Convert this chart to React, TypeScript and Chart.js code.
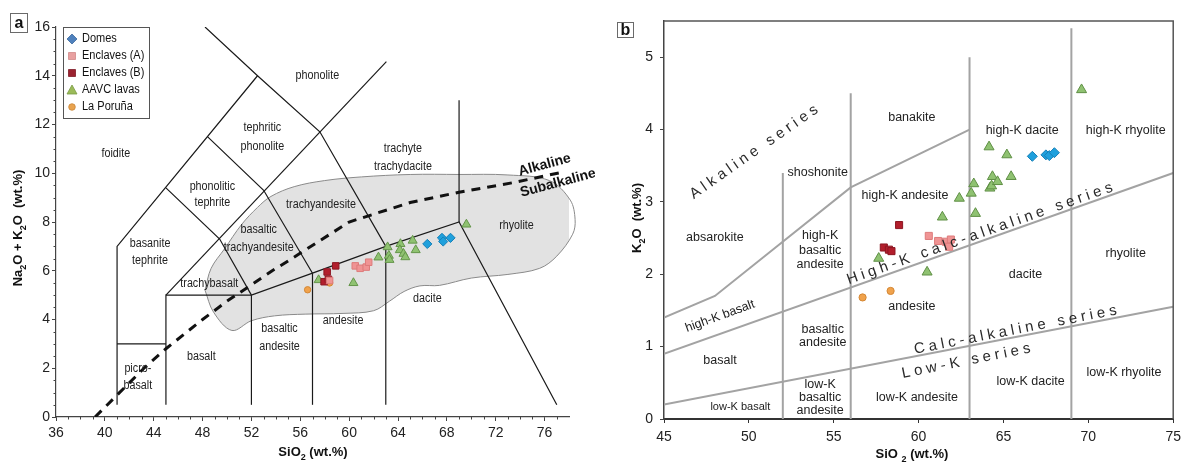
import React, { useEffect, useRef } from 'react';
import { Chart, registerables } from 'chart.js';

Chart.register(...registerables);

const FONT = '"Liberation Sans", Arial, sans-serif';

// ---------------- Panel a : TAS diagram ----------------
const tasXTicks = [36, 40, 44, 48, 52, 56, 60, 64, 68, 72, 76];
const tasYTicks = [0, 2, 4, 6, 8, 10, 12, 14, 16];

const tasDomes = [[66.4, 7.1], [67.6, 7.35], [67.7, 7.2], [68.3, 7.35]];
const tasEnclavesA = [[60.5, 6.2], [60.9, 6.1], [61.4, 6.15], [61.6, 6.35], [58.4, 5.6]];
const tasEnclavesB = [[58.9, 6.2], [58.2, 5.95], [57.95, 5.55], [58.3, 5.65]];
const tasAAVC = [
  [57.5, 5.62], [60.35, 5.5], [62.4, 6.55], [63.15, 6.97], [63.25, 6.62], [63.3, 6.45],
  [64.2, 7.1], [64.15, 6.85], [64.45, 6.7], [64.6, 6.56], [65.2, 7.24], [65.45, 6.85], [69.6, 7.9],
];
const tasPoruna = [[56.6, 5.22], [58.4, 5.5]];

const tasField = [
  [48.2, 5.2], [48.7, 6.1], [49.8, 6.9], [51.2, 7.9], [52.5, 8.6], [53.6, 9.05], [55.5, 9.45],
  [58, 9.7], [61, 9.85], [65, 9.95], [69, 9.95], [73, 9.93], [76.4, 9.7], [78.1, 8.9],
  [78.5, 8.1], [78.3, 7.5], [77, 6.6], [75.6, 6.1], [73, 5.85], [70, 5.7], [67.4, 5.4],
  [65.8, 5.38], [64.5, 5.15], [63.3, 4.75], [62, 4.36], [59.5, 4.25], [56.4, 4.22],
  [53.9, 4.15], [52, 3.95], [50.4, 3.55], [48.9, 4.3], [48.2, 5.2],
];

const tasBoundaries = [
  [[41, 0.5], [41, 7], [52.5, 14]],
  [[48.2, 16], [52.5, 14], [57.6, 11.7], [63, 7]],
  [[48.4, 11.5], [53, 9.3], [57, 5.9]],
  [[45, 9.4], [49.4, 7.3], [52, 5]],
  [[45, 5], [63.05, 14.58]],
  [[41, 3], [45, 3]],
  [[45, 0.5], [45, 5], [52, 5], [57, 5.9], [63, 7], [69, 8], [77, 0.5]],
  [[52, 0.5], [52, 5]],
  [[57, 0.5], [57, 5.9]],
  [[63, 0.5], [63, 7]],
  [[69, 8], [69, 13]],
];

const tasAlkalineDivide = [
  [39.2, 0], [40, 0.4], [43.2, 2], [45, 2.8], [48, 4], [50, 4.75], [53.7, 6], [55, 6.4],
  [60, 8], [65, 8.8], [69, 9.22], [73.7, 9.64], [77.5, 10.05],
];

const tasLabels = [
  { t: 'foidite', x: 40.9, y: 10.8 },
  { t: 'phonolite', x: 57.4, y: 14.0 },
  { t: 'tephritic', x: 52.9, y: 11.86 },
  { t: 'phonolite', x: 52.9, y: 11.08 },
  { t: 'phonolitic', x: 48.8, y: 9.44 },
  { t: 'tephrite', x: 48.8, y: 8.78 },
  { t: 'basanite', x: 43.7, y: 7.1 },
  { t: 'tephrite', x: 43.7, y: 6.4 },
  { t: 'trachyte', x: 64.4, y: 11.0 },
  { t: 'trachydacite', x: 64.4, y: 10.26 },
  { t: 'trachyandesite', x: 57.7, y: 8.7 },
  { t: 'basaltic', x: 52.6, y: 7.71 },
  { t: 'trachyandesite', x: 52.6, y: 6.97 },
  { t: 'trachybasalt', x: 48.55, y: 5.46 },
  { t: 'rhyolite', x: 73.7, y: 7.84 },
  { t: 'dacite', x: 66.4, y: 4.88 },
  { t: 'andesite', x: 59.5, y: 3.94 },
  { t: 'basaltic', x: 54.3, y: 3.61 },
  { t: 'andesite', x: 54.3, y: 2.91 },
  { t: 'basalt', x: 47.9, y: 2.5 },
  { t: 'picro-', x: 42.7, y: 2.0 },
  { t: 'basalt', x: 42.7, y: 1.3 },
];
const tasSeriesLabels = [
  { t: 'Alkaline', x: 76.0, y: 10.34 },
  { t: 'Subalkaline', x: 77.1, y: 9.6 },
];

// ---------------- Panel b : K2O vs SiO2 ----------------
const kXTicks = [45, 50, 55, 60, 65, 70, 75];
const kYTicks = [0, 1, 2, 3, 4, 5];

const kDomes = [[66.7, 3.63], [67.5, 3.65], [67.7, 3.64], [68.0, 3.68]];
const kEnclavesA = [[60.6, 2.53], [61.15, 2.46], [61.6, 2.45], [61.9, 2.48], [61.8, 2.38]];
const kEnclavesB = [[58.85, 2.68], [57.95, 2.37], [58.25, 2.34], [58.4, 2.32]];
const kAAVC = [
  [57.65, 2.22], [60.5, 2.03], [61.4, 2.79], [62.4, 3.05], [63.1, 3.12], [63.25, 3.25],
  [63.35, 2.84], [64.15, 3.76], [64.2, 3.19], [64.3, 3.22], [64.35, 3.35], [64.65, 3.28],
  [65.2, 3.65], [65.45, 3.35], [69.6, 4.55],
];
const kPoruna = [[56.7, 1.68], [58.35, 1.77]];

const kBoundaries = [
  [[45, 1.4], [48, 1.7], [56, 3.2], [63, 4.0]],
  [[45, 0.9], [75, 3.4]],
  [[45, 0.2], [75, 1.55]],
  [[52, 0], [52, 3.4]],
  [[56, 0], [56, 4.5]],
  [[63, 0], [63, 5.0]],
  [[69, 0], [69, 5.4]],
];

const kLabels = [
  { t: 'shoshonite', x: 54.06, y: 3.41 },
  { t: 'banakite', x: 59.6, y: 4.17 },
  { t: 'high-K dacite', x: 66.1, y: 3.98 },
  { t: 'high-K rhyolite', x: 72.2, y: 3.98 },
  { t: 'high-K andesite', x: 59.2, y: 3.09 },
  { t: 'absarokite', x: 48.0, y: 2.51 },
  { t: 'high-K', x: 54.2, y: 2.54 },
  { t: 'basaltic', x: 54.2, y: 2.33 },
  { t: 'andesite', x: 54.2, y: 2.13 },
  { t: 'rhyolite', x: 72.2, y: 2.29 },
  { t: 'dacite', x: 66.3, y: 1.99 },
  { t: 'andesite', x: 59.6, y: 1.55 },
  { t: 'basaltic', x: 54.35, y: 1.24 },
  { t: 'andesite', x: 54.35, y: 1.05 },
  { t: 'basalt', x: 48.3, y: 0.81 },
  { t: 'low-K', x: 54.2, y: 0.48 },
  { t: 'basaltic', x: 54.2, y: 0.3 },
  { t: 'andesite', x: 54.2, y: 0.12 },
  { t: 'low-K andesite', x: 59.9, y: 0.29 },
  { t: 'low-K dacite', x: 66.6, y: 0.52 },
  { t: 'low-K rhyolite', x: 72.1, y: 0.64 },
];
const kSmallLabels = [{ t: 'low-K basalt', x: 49.5, y: 0.17 }];
const kRotLabels = [{ t: 'high-K basalt', x: 48.3, y: 1.42, rot: -20 }];
const kSeriesLabels = [
  { t: 'Alkaline series', x: 50.3, y: 3.69, rot: -35 },
  { t: 'High-K calc-alkaline series', x: 63.6, y: 2.56, rot: -19.4 },
  { t: 'Calc-alkaline series', x: 65.7, y: 1.23, rot: -11 },
  { t: 'Low-K series', x: 62.8, y: 0.8, rot: -11.3 },
];

const legendNames = ['Domes', 'Enclaves (A)', 'Enclaves (B)', 'AAVC lavas', 'La Poruña'];

// ---------------- helpers ----------------
const pts = (a: number[][]) => a.map(([x, y]) => ({ x, y }));

function lineDs(data: number[][], extra: any = {}) {
  return {
    data: pts(data), showLine: true, pointRadius: 0, borderColor: '#1a1a1a', borderWidth: 1.2,
    fill: false, order: 5, tension: 0, ...extra,
  };
}

function markerDs(label: string, data: number[][], style: string, bg: string, border: string, r: number) {
  return {
    label, data: pts(data), pointStyle: style, pointRadius: r, pointBackgroundColor: bg,
    pointBorderColor: border, pointBorderWidth: 1, backgroundColor: bg, borderColor: border,
    showLine: false, order: 0,
  };
}

function drawLabel(ctx: CanvasRenderingContext2D, text: string, px: number, py: number, o: any) {
  ctx.save();
  ctx.translate(px, py);
  if (o.rot) ctx.rotate((o.rot * Math.PI) / 180);
  if (o.sx) ctx.scale(o.sx, 1);
  ctx.font = `${o.bold ? 'bold ' : ''}${o.size}px ${FONT}`;
  ctx.fillStyle = o.color || '#222';
  ctx.textBaseline = 'middle';
  if (o.ls) {
    const chars = Array.from(text);
    const widths = chars.map((c) => ctx.measureText(c).width);
    const total = widths.reduce((a, b) => a + b, 0) + o.ls * (chars.length - 1);
    let cx = -total / 2;
    ctx.textAlign = 'left';
    chars.forEach((c, i) => {
      ctx.fillText(c, cx, 0);
      cx += widths[i] + o.ls;
    });
  } else {
    ctx.textAlign = 'center';
    ctx.fillText(text, 0, 0);
  }
  ctx.restore();
}

function drawRich(ctx: CanvasRenderingContext2D, parts: { t: string; sub?: boolean }[], cx: number, cy: number, rot: number, size: number) {
  ctx.save();
  ctx.translate(cx, cy);
  if (rot) ctx.rotate((rot * Math.PI) / 180);
  ctx.fillStyle = '#111';
  ctx.textBaseline = 'alphabetic';
  ctx.textAlign = 'left';
  const fontFor = (p: any) => `bold ${p.sub ? Math.round(size * 0.68) : size}px ${FONT}`;
  const widths = parts.map((p) => {
    ctx.font = fontFor(p);
    return ctx.measureText(p.t).width;
  });
  const total = widths.reduce((a, b) => a + b, 0);
  let x = -total / 2;
  const base = size * 0.36;
  parts.forEach((p, i) => {
    ctx.font = fontFor(p);
    ctx.fillText(p.t, x, base + (p.sub ? size * 0.3 : 0));
    x += widths[i];
  });
  ctx.restore();
}

function boxLetter(ctx: CanvasRenderingContext2D, letter: string, x0: number, y0: number, w: number, h: number) {
  ctx.save();
  ctx.fillStyle = '#fff';
  ctx.fillRect(x0, y0, w, h);
  ctx.strokeStyle = '#6a6a6a';
  ctx.lineWidth = 1;
  ctx.strokeRect(x0 + 0.5, y0 + 0.5, w, h);
  ctx.fillStyle = '#111';
  ctx.font = `bold 16px ${FONT}`;
  ctx.textAlign = 'center';
  ctx.textBaseline = 'middle';
  ctx.fillText(letter, x0 + w / 2 + 0.5, y0 + h / 2 + 1);
  ctx.restore();
}

function drawMarker(ctx: CanvasRenderingContext2D, style: string, x: number, y: number, fill: string, stroke: string) {
  ctx.save();
  ctx.fillStyle = fill;
  ctx.strokeStyle = stroke;
  ctx.lineWidth = 0.8;
  ctx.beginPath();
  if (style === 'diamond') {
    ctx.moveTo(x, y - 5); ctx.lineTo(x + 5, y); ctx.lineTo(x, y + 5); ctx.lineTo(x - 5, y); ctx.closePath();
  } else if (style === 'square') {
    ctx.rect(x - 3.5, y - 3.5, 7, 7);
  } else if (style === 'triangle') {
    ctx.moveTo(x, y - 5); ctx.lineTo(x + 5, y + 4); ctx.lineTo(x - 5, y + 4); ctx.closePath();
  } else {
    ctx.arc(x, y, 3.3, 0, Math.PI * 2);
  }
  ctx.fill();
  ctx.stroke();
  ctx.restore();
}

const tickFont = { family: FONT, size: 14 };

// ---------------- configs ----------------
function configA(): any {
  const legendStyles = [
    ['diamond', '#4f81bd', '#3c6a9e'],
    ['square', '#e8a0a0', '#d08888'],
    ['square', '#9b2230', '#7d1a26'],
    ['triangle', '#9bbb59', '#7a9a45'],
    ['circle', '#e9a34f', '#c9873a'],
  ];
  const plugin = {
    id: 'tasDecor',
    afterDatasetsDraw(chart: any) {
      const { ctx, scales: { x, y } } = chart;
      tasLabels.forEach((l) =>
        drawLabel(ctx, l.t, x.getPixelForValue(l.x), y.getPixelForValue(l.y), { size: 12.5, sx: 0.86, color: '#222' })
      );
      tasSeriesLabels.forEach((l) =>
        drawLabel(ctx, l.t, x.getPixelForValue(l.x), y.getPixelForValue(l.y), { size: 14, bold: true, rot: -15, color: '#111' })
      );
    },
    afterDraw(chart: any) {
      const { ctx, chartArea: { left, bottom }, scales: { x, y } } = chart;
      ctx.save();
      ctx.strokeStyle = '#444';
      ctx.lineWidth = 1;
      ctx.beginPath();
      for (let v = 37; v < 78; v++) {
        if (v % 4 === 0) continue;
        const px = Math.round(x.getPixelForValue(v)) + 0.5;
        ctx.moveTo(px, bottom);
        ctx.lineTo(px, bottom + 2.5);
      }
      for (let v = 0.5; v < 16; v += 0.5) {
        if (v % 2 === 0) continue;
        const py = Math.round(y.getPixelForValue(v)) + 0.5;
        ctx.moveTo(left, py);
        ctx.lineTo(left - 2.5, py);
      }
      ctx.stroke();
      ctx.restore();

      // legend
      ctx.save();
      ctx.fillStyle = '#fff';
      ctx.fillRect(63, 27, 86, 91);
      ctx.strokeStyle = '#555';
      ctx.lineWidth = 1;
      ctx.strokeRect(63.5, 27.5, 86, 91);
      legendNames.forEach((name, i) => {
        const yy = 39 + i * 17;
        const s = legendStyles[i];
        drawMarker(ctx, s[0], 72, yy, s[1], s[2]);
        ctx.save();
        ctx.translate(82, yy);
        ctx.scale(0.88, 1);
        ctx.font = `12.5px ${FONT}`;
        ctx.fillStyle = '#111';
        ctx.textAlign = 'left';
        ctx.textBaseline = 'middle';
        ctx.fillText(name, 0, 0);
        ctx.restore();
      });
      ctx.restore();

      boxLetter(ctx, 'a', 10, 13, 17, 19);
      drawRich(ctx, [{ t: 'SiO' }, { t: '2', sub: true }, { t: ' (wt.%)' }], 313, 451, 0, 13);
      drawRich(
        ctx,
        [{ t: 'Na' }, { t: '2', sub: true }, { t: 'O + K' }, { t: '2', sub: true }, { t: 'O  (wt.%)' }],
        17, 228, -90, 13
      );
    },
  };

  return {
    type: 'scatter',
    data: {
      datasets: [
        markerDs('Domes', tasDomes, 'rectRot', '#1fa0dc', '#1680b8', 4.6),
        markerDs('Enclaves (A)', tasEnclavesA, 'rect', '#f09494', '#dd7b7b', 4.6),
        markerDs('Enclaves (B)', tasEnclavesB, 'rect', '#b21e2c', '#8c1622', 4.6),
        markerDs('AAVC lavas', tasAAVC, 'triangle', '#8fc271', '#64954a', 5.2),
        markerDs('La Poruña', tasPoruna, 'circle', '#f0a24c', '#d48836', 3.2),
        ...tasBoundaries.map((b) => lineDs(b)),
        lineDs(tasAlkalineDivide, { borderWidth: 3, borderDash: [9, 7], borderColor: '#111', order: 4 }),
        {
          data: pts(tasField), showLine: true, pointRadius: 0, fill: 'shape', backgroundColor: '#e2e2e2',
          borderColor: '#8a8a8a', borderWidth: 1, tension: 0.35, order: 10, clip: false,
        },
      ],
    },
    options: {
      animation: false,
      responsive: false,
      devicePixelRatio: 1,
      events: [],
      layout: { padding: { left: 0, right: 26, top: 27, bottom: 0 } },
      plugins: { legend: { display: false }, tooltip: { enabled: false } },
      scales: {
        x: {
          type: 'linear', min: 36, max: 78,
          afterFit: (s: any) => { s.height = 49; },
          afterBuildTicks: (s: any) => { s.ticks = tasXTicks.map((v) => ({ value: v })); },
          ticks: { font: tickFont, color: '#222', padding: 4, maxRotation: 0, autoSkip: false },
          grid: { display: true, drawOnChartArea: false, tickLength: 4, color: '#444' },
          border: { display: true, color: '#444', width: 1.2 },
        },
        y: {
          type: 'linear', min: 0, max: 16,
          afterFit: (s: any) => { s.width = 56; },
          afterBuildTicks: (s: any) => { s.ticks = tasYTicks.map((v) => ({ value: v })); },
          ticks: { font: tickFont, color: '#222', padding: 2, autoSkip: false },
          grid: { display: true, drawOnChartArea: false, tickLength: 4, color: '#444' },
          border: { display: true, color: '#444', width: 1.2 },
        },
      },
    },
    plugins: [plugin],
  };
}

function configB(): any {
  const plugin = {
    id: 'kDecor',
    afterDatasetsDraw(chart: any) {
      const { ctx, scales: { x, y } } = chart;
      kLabels.forEach((l) =>
        drawLabel(ctx, l.t, x.getPixelForValue(l.x), y.getPixelForValue(l.y), { size: 12.5, color: '#222' })
      );
      kSmallLabels.forEach((l) =>
        drawLabel(ctx, l.t, x.getPixelForValue(l.x), y.getPixelForValue(l.y), { size: 11, color: '#222' })
      );
      kRotLabels.forEach((l) =>
        drawLabel(ctx, l.t, x.getPixelForValue(l.x), y.getPixelForValue(l.y), { size: 12.5, rot: l.rot, color: '#222' })
      );
      kSeriesLabels.forEach((l) =>
        drawLabel(ctx, l.t, x.getPixelForValue(l.x), y.getPixelForValue(l.y), { size: 15, rot: l.rot, ls: 4, color: '#2a2a2a' })
      );
    },
    afterDraw(chart: any) {
      const { ctx, chartArea: { left, right, top, bottom } } = chart;
      ctx.save();
      ctx.strokeStyle = '#555';
      ctx.lineWidth = 1.5;
      ctx.beginPath();
      ctx.moveTo(left, top);
      ctx.lineTo(right, top);
      ctx.lineTo(right, bottom);
      ctx.stroke();
      ctx.restore();
      boxLetter(ctx, 'b', 22, 22, 16, 15);
      drawRich(ctx, [{ t: 'SiO ' }, { t: '2', sub: true }, { t: ' (wt.%)' }], 317, 453, 0, 13);
      drawRich(ctx, [{ t: 'K' }, { t: '2', sub: true }, { t: 'O  (wt.%)' }], 41, 218, -90, 13);
    },
  };

  return {
    type: 'scatter',
    data: {
      datasets: [
        markerDs('Domes', kDomes, 'rectRot', '#1ea0dd', '#167fb6', 5),
        markerDs('Enclaves (A)', kEnclavesA, 'rect', '#f09494', '#dd7b7b', 5),
        markerDs('Enclaves (B)', kEnclavesB, 'rect', '#b21e2c', '#8c1622', 5),
        markerDs('AAVC lavas', kAAVC, 'triangle', '#8fc271', '#5f8f45', 5.8),
        markerDs('La Poruña', kPoruna, 'circle', '#f0a24c', '#d48836', 3.6),
        ...kBoundaries.map((b) => lineDs(b, { borderColor: '#a3a3a3', borderWidth: 2 })),
      ],
    },
    options: {
      animation: false,
      responsive: false,
      devicePixelRatio: 1,
      events: [],
      layout: { padding: { left: 0, right: 13, top: 21, bottom: 0 } },
      plugins: { legend: { display: false }, tooltip: { enabled: false } },
      scales: {
        x: {
          type: 'linear', min: 45, max: 75,
          afterFit: (s: any) => { s.height = 47; },
          afterBuildTicks: (s: any) => { s.ticks = kXTicks.map((v) => ({ value: v })); },
          ticks: { font: tickFont, color: '#222', padding: 6, maxRotation: 0, autoSkip: false },
          grid: { display: true, drawOnChartArea: false, tickLength: 4, color: '#333' },
          border: { display: true, color: '#333', width: 2 },
        },
        y: {
          type: 'linear', min: 0, max: 5.5,
          afterFit: (s: any) => { s.width = 69; },
          afterBuildTicks: (s: any) => { s.ticks = kYTicks.map((v) => ({ value: v })); },
          ticks: { font: tickFont, color: '#222', padding: 7, autoSkip: false },
          grid: { display: true, drawOnChartArea: false, tickLength: 4, color: '#444' },
          border: { display: true, color: '#444', width: 1.5 },
        },
      },
    },
    plugins: [plugin],
  };
}

export default function App() {
  const aRef = useRef<HTMLCanvasElement>(null);
  const bRef = useRef<HTMLCanvasElement>(null);
  useEffect(() => {
    const ca = new Chart(aRef.current as HTMLCanvasElement, configA());
    const cb = new Chart(bRef.current as HTMLCanvasElement, configB());
    return () => {
      ca.destroy();
      cb.destroy();
    };
  }, []);
  return (
    <div style={{ position: 'absolute', left: 0, top: 0, width: 1187, height: 466, background: '#fff' }}>
      <canvas ref={aRef} width={595} height={466} style={{ position: 'absolute', left: 0, top: 0, width: 595, height: 466 }} />
      <canvas ref={bRef} width={592} height={466} style={{ position: 'absolute', left: 595, top: 0, width: 592, height: 466 }} />
    </div>
  );
}
